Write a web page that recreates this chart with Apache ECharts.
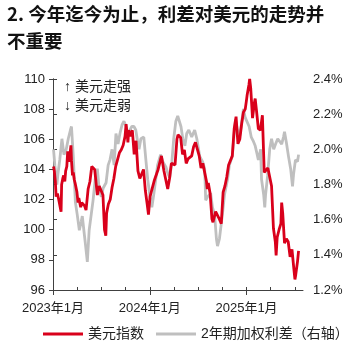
<!DOCTYPE html>
<html><head><meta charset="utf-8">
<script src="https://cdn.jsdelivr.net/npm/echarts@6/dist/echarts.min.js"></script>
<style>html,body{margin:0;padding:0;background:#fff}#c{width:357px;height:347px}</style>
</head><body><div id="c"></div>
<script>
const titleText = '2. 今年迄今为止，利差对美元的走势并\n不重要';
const seriesNames = ['美元指数', '2年期加权利差（右轴）'];
const noteUp = '↑ 美元走强';
const noteDown = '↓ 美元走弱';
const xTickLabels = ['2023年1月', '2024年1月', '2025年1月'];
const leftTicks = [96, 110, 2];
const rightTicks = [1.2, 2.4, 0.2];

const dxyDates = ['2023-01-03','2023-01-06','2023-01-10','2023-01-13','2023-01-18','2023-01-23','2023-01-26','2023-02-01','2023-02-03','2023-02-07','2023-02-10','2023-02-14','2023-02-17','2023-02-21','2023-02-24','2023-03-01','2023-03-08','2023-03-10','2023-03-14','2023-03-17','2023-03-21','2023-03-24','2023-03-31','2023-04-04','2023-04-07','2023-04-14','2023-04-18','2023-04-21','2023-04-28','2023-05-04','2023-05-08','2023-05-12','2023-05-19','2023-05-26','2023-05-31','2023-06-06','2023-06-09','2023-06-16','2023-06-23','2023-06-30','2023-07-07','2023-07-13','2023-07-18','2023-07-21','2023-07-28','2023-08-04','2023-08-11','2023-08-18','2023-08-25','2023-09-01','2023-09-08','2023-09-15','2023-09-22','2023-09-29','2023-10-03','2023-10-10','2023-10-13','2023-10-20','2023-10-27','2023-11-03','2023-11-10','2023-11-17','2023-11-24','2023-12-01','2023-12-08','2023-12-15','2023-12-22','2023-12-27','2024-01-02','2024-01-05','2024-01-12','2024-01-19','2024-01-26','2024-02-02','2024-02-09','2024-02-14','2024-02-23','2024-03-01','2024-03-08','2024-03-15','2024-03-22','2024-03-29','2024-04-05','2024-04-12','2024-04-16','2024-04-26','2024-05-03','2024-05-10','2024-05-17','2024-05-24','2024-05-31','2024-06-07','2024-06-14','2024-06-21','2024-06-28','2024-07-05','2024-07-12','2024-07-19','2024-07-26','2024-08-02','2024-08-05','2024-08-09','2024-08-16','2024-08-23','2024-08-27','2024-09-06','2024-09-13','2024-09-20','2024-09-27','2024-10-04','2024-10-11','2024-10-18','2024-10-25','2024-11-01','2024-11-08','2024-11-15','2024-11-22','2024-11-29','2024-12-06','2024-12-13','2024-12-20','2024-12-27','2024-12-31','2025-01-03','2025-01-10','2025-01-13','2025-01-17','2025-01-24','2025-01-31','2025-02-03','2025-02-07','2025-02-14','2025-02-21','2025-02-28','2025-03-07','2025-03-14','2025-03-21','2025-03-28','2025-04-04','2025-04-11','2025-04-18','2025-04-21','2025-04-25','2025-05-02','2025-05-09','2025-05-12','2025-05-16','2025-05-23','2025-05-30','2025-06-06','2025-06-13','2025-06-20','2025-06-27','2025-07-01','2025-07-04','2025-07-11','2025-07-15'];
const dxyValues = [104.2,103.9,103.2,102.2,102.4,102.0,101.9,101.2,103.0,103.4,103.6,103.2,103.9,104.2,105.2,104.5,105.6,104.6,103.6,103.8,103.3,103.1,102.5,101.8,102.1,101.5,101.8,101.8,101.6,101.3,101.4,102.7,103.2,104.2,104.3,104.0,103.5,102.3,102.9,103.0,102.3,100.0,99.6,101.1,101.7,102.0,102.8,103.4,104.2,104.3,105.1,105.3,105.6,106.2,107.0,105.8,106.6,106.2,106.6,105.0,105.9,103.9,103.4,103.3,104.0,102.6,101.7,101.0,102.2,102.4,102.4,103.3,103.4,104.0,104.1,104.9,103.9,103.9,102.7,103.4,104.4,104.5,104.3,106.0,106.3,106.1,105.0,105.3,104.4,104.7,104.6,104.9,105.5,105.8,105.9,104.9,104.1,104.4,104.3,103.2,102.7,103.1,102.4,100.7,100.5,101.2,101.1,100.7,100.4,102.5,102.9,103.5,104.3,104.3,104.9,106.7,107.5,105.7,106.0,107.0,107.8,108.0,108.5,108.9,109.6,110.0,109.4,107.4,108.4,108.7,108.0,106.7,106.6,107.6,103.8,103.7,104.1,104.0,102.9,100.1,99.2,98.3,99.5,100.0,100.4,101.8,101.1,99.1,99.4,99.2,98.2,98.7,97.4,96.7,97.0,97.9,98.6];

const spreadDates = ['2023-01-03','2023-01-08','2023-01-16','2023-01-20','2023-01-27','2023-02-04','2023-02-11','2023-02-19','2023-02-26','2023-03-06','2023-03-10','2023-03-17','2023-03-25','2023-04-01','2023-04-09','2023-04-16','2023-04-20','2023-04-28','2023-05-01','2023-05-09','2023-05-16','2023-05-24','2023-05-31','2023-06-08','2023-06-16','2023-06-23','2023-07-01','2023-07-08','2023-07-19','2023-07-27','2023-08-03','2023-08-11','2023-08-19','2023-08-26','2023-09-03','2023-09-10','2023-09-18','2023-09-25','2023-10-03','2023-10-10','2023-10-18','2023-10-25','2023-11-02','2023-11-09','2023-11-17','2023-11-21','2023-11-28','2023-12-09','2023-12-17','2023-12-24','2024-01-01','2024-01-09','2024-01-16','2024-01-24','2024-01-31','2024-02-11','2024-02-19','2024-03-01','2024-03-09','2024-03-16','2024-03-24','2024-03-31','2024-04-08','2024-04-15','2024-04-27','2024-05-04','2024-05-12','2024-05-19','2024-05-27','2024-06-07','2024-06-18','2024-06-26','2024-07-07','2024-07-18','2024-07-26','2024-07-30','2024-08-06','2024-08-18','2024-08-25','2024-09-02','2024-09-09','2024-09-13','2024-09-20','2024-09-24','2024-10-02','2024-10-09','2024-10-21','2024-10-28','2024-11-08','2024-11-16','2024-11-20','2024-11-27','2024-12-05','2024-12-12','2024-12-20','2024-12-27','2025-01-03','2025-01-11','2025-01-19','2025-01-26','2025-02-03','2025-02-10','2025-02-14','2025-02-22','2025-02-25','2025-03-05','2025-03-09','2025-03-12','2025-03-20','2025-03-28','2025-04-04','2025-04-12','2025-04-19','2025-04-27','2025-05-04','2025-05-12','2025-05-19','2025-05-23','2025-05-31','2025-06-07','2025-06-15','2025-06-22','2025-06-26','2025-07-03','2025-07-11','2025-07-15'];
const spreadValues = [2.00,1.91,1.80,1.86,1.94,2.06,1.97,2.00,2.06,2.11,2.13,1.96,1.70,1.63,1.54,1.59,1.62,1.51,1.47,1.36,1.54,1.63,1.71,1.83,1.89,1.77,1.73,1.78,1.81,1.91,1.94,2.00,1.91,2.09,2.03,2.09,2.14,2.16,2.13,2.09,2.11,2.13,2.13,2.11,2.03,2.00,2.06,2.07,1.94,1.83,1.74,1.67,1.74,1.83,1.91,1.97,1.93,1.90,1.86,1.84,1.93,2.06,2.16,2.19,2.13,2.06,2.02,2.09,2.11,2.07,2.11,2.06,1.96,1.93,1.89,1.71,1.73,1.75,1.67,1.63,1.49,1.45,1.49,1.50,1.64,1.74,1.83,1.91,1.96,2.11,2.17,2.11,2.07,2.14,2.23,2.18,2.17,2.13,2.07,2.05,2.02,1.97,1.94,2.00,1.83,1.74,1.67,1.74,1.85,2.00,2.06,2.00,2.03,2.06,2.07,2.03,2.07,2.10,2.03,1.96,1.89,1.79,1.86,1.94,1.93,1.97];

function toMonth(s) {
  const p = s.split('-').map(Number);
  const dim = new Date(p[0], p[1], 0).getDate();
  return (p[0] - 2023) * 12 + (p[1] - 1) + (p[2] - 1) / dim;
}
const dxyData = dxyDates.map((d, i) => [toMonth(d), dxyValues[i]]);
const spreadData = spreadDates.map((d, i) => [toMonth(d), spreadValues[i]]);

const FONT = 'Liberation Sans, Arial, Noto Sans CJK SC, sans-serif';
const AX = '#404040';
const minorTicks = []; for (let m = 0; m <= 30; m += 3) minorTicks.push(m);
const majorTicks = [0, 12, 24];

const chart = echarts.init(document.getElementById('c'), null, {renderer: 'canvas'});
chart.setOption({
  animation: false,
  backgroundColor: '#fff',
  title: {
    text: titleText, left: 7, top: 0, padding: 0,
    textStyle: {fontFamily: 'Noto Sans CJK SC, sans-serif', fontSize: 18.5, fontWeight: 'bold', color: '#111', lineHeight: 27}
  },
  grid: {left: 53, right: 54, top: 79, bottom: 57, containLabel: false},
  legend: {
    data: seriesNames, left: 38, top: 322, icon: 'rect', itemWidth: 40, itemHeight: 3, itemGap: 12,
    textStyle: {fontFamily: FONT, fontSize: 14, color: '#222'}
  },
  graphic: [
    {type: 'text', left: 64, top: 80, style: {text: noteUp, font: '14px ' + FONT, fill: '#222'}},
    {type: 'text', left: 64, top: 99, style: {text: noteDown, font: '14px ' + FONT, fill: '#222'}}
  ],
  xAxis: [
    {type: 'value', min: 0, max: 31, position: 'bottom',
     axisLine: {show: true, lineStyle: {color: AX, width: 1}},
     axisTick: {show: true, inside: true, length: 3, customValues: minorTicks, lineStyle: {color: AX}},
     axisLabel: {show: false}, splitLine: {show: false}},
    {type: 'value', min: 0, max: 31, position: 'bottom',
     axisLine: {show: false},
     axisTick: {show: true, inside: false, length: 5, customValues: majorTicks, lineStyle: {color: AX}},
     axisLabel: {show: true, customValues: majorTicks, margin: 12, fontFamily: FONT, fontSize: 13, color: '#222',
       formatter: v => xTickLabels[Math.round(v / 12)] || ''},
     splitLine: {show: false}}
  ],
  yAxis: [
    {type: 'value', min: leftTicks[0], max: leftTicks[1], interval: leftTicks[2], position: 'left',
     axisLine: {show: true, lineStyle: {color: AX}},
     axisTick: {show: true, length: 4, lineStyle: {color: AX}},
     axisLabel: {margin: 8, fontFamily: FONT, fontSize: 13, color: '#222'},
     splitLine: {show: false}},
    {type: 'value', min: rightTicks[0], max: rightTicks[1], interval: rightTicks[2], position: 'right',
     axisLine: {show: true, lineStyle: {color: AX}},
     axisTick: {show: true, length: 4, lineStyle: {color: AX}},
     axisLabel: {margin: 10, fontFamily: FONT, fontSize: 13, color: '#222', formatter: v => v.toFixed(1) + '%'},
     splitLine: {show: false}}
  ],
  series: [
    {name: seriesNames[1], type: 'line', xAxisIndex: 0, yAxisIndex: 1, data: spreadData, symbol: 'none',
     lineStyle: {color: '#bfbfbf', width: 2.8}, itemStyle: {color: '#bfbfbf'}, z: 2},
    {name: seriesNames[0], type: 'line', xAxisIndex: 0, yAxisIndex: 0, data: dxyData, symbol: 'none',
     lineStyle: {color: '#d9001b', width: 2.8}, itemStyle: {color: '#d9001b'}, z: 3}
  ]
});
</script></body></html>
